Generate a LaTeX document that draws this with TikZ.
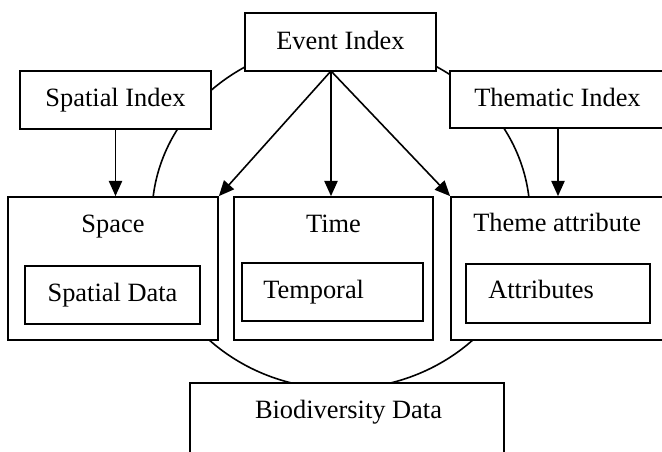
\documentclass[tikz,border=0pt]{standalone}
\usepackage{fontspec}
\setmainfont{Liberation Serif}
\usetikzlibrary{arrows.meta}
\newcommand\pbox[5]{\node[boxst, minimum width=#4*0.75pt, minimum height=#5*0.75pt] (#1) at (#2,#3) {};}
\begin{document}
\begin{tikzpicture}[x=0.75pt,y=-0.75pt,
  boxst/.style={draw, line width=1.3pt, fill=white, inner sep=0pt, rectangle},
  lbl/.style={font=\fontsize{19.8}{24}\selectfont, inner sep=0pt, anchor=base},
  lbll/.style={lbl, anchor=base west},
  arr/.style={line width=1.2pt, -{Triangle[length=11.5pt,width=10pt]}},
  ring/.style={line width=1.2pt}]
\useasboundingbox (0,0) rectangle (662,452);
\draw[ring] (341,216) ellipse [x radius=141.75pt, y radius=129.75pt];
% boxes
\pbox{ev}{340.5}{42}{191}{58}
\pbox{si}{115.5}{100}{191}{58}
\pbox{ti}{565}{99.5}{230}{57}
\pbox{sp}{113}{268.5}{210}{143}
\pbox{tm}{333.5}{268.5}{199}{143}
\pbox{th}{565.5}{268.5}{229}{143}
\pbox{spd}{112.5}{295}{175}{58}
\pbox{tmp}{332.5}{292}{181}{58}
\pbox{att}{558}{293.5}{184}{59}
\pbox{bio}{347}{426.5}{314}{87}
% labels
\node[lbl] (tev) at (340.5,50) {Event Index};
\node[lbl] (tsi) at (115.5,107) {Spatial Index};
\node[lbll] (tti) at (474,107) {Thematic Index};
\node[lbl] (tsp) at (113,233) {Space};
\node[lbl] (ttm) at (333.5,233) {Time};
\node[lbll] (tth) at (473,232) {Theme attribute};
\node[lbl] (tspd) at (112.5,302) {Spatial Data};
\node[lbll] (ttmp) at (263,299) {Temporal};
\node[lbll] (tatt) at (488,299) {Attributes};
\node[lbl] (tbio) at (348.5,419) {Biodiversity Data};
% connectors
\coordinate (evb) at (331,71);
\coordinate (tib) at (558,128);
\draw[arr] (si.south) -- (si.south |- sp.north);
\draw[arr] (evb) -- (evb |- tm.north);
\draw[arr] (evb) -- (sp.north east);
\draw[arr] (evb) -- (th.north west);
\draw[arr] (tib) -- (tib |- th.north);
\end{tikzpicture}
\end{document}
